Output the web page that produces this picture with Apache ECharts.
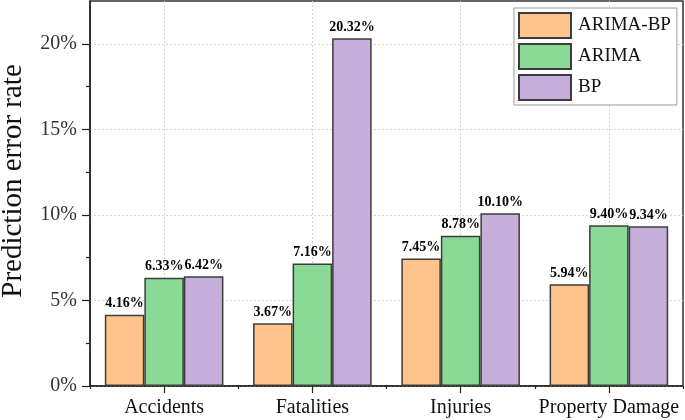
<!DOCTYPE html>
<html><head><meta charset="utf-8">
<script src="https://cdn.jsdelivr.net/npm/echarts@6/dist/echarts.min.js"></script>
<style>html,body{margin:0;padding:0;background:#fff}#c{width:685px;height:420px}</style>
</head><body><div id="c"></div>
<script>
const categories = ['Accidents', 'Fatalities', 'Injuries', 'Property Damage'];
const arimaBP = [4.16, 3.67, 7.45, 5.94];
const arima = [6.33, 7.16, 8.78, 9.40];
const bp = [6.42, 20.32, 10.10, 9.34];
const seriesNames = ['ARIMA-BP', 'ARIMA', 'BP'];
const yTicks = [0, 5, 10, 15, 20];
const yMinorTicks = [2.5, 7.5, 12.5, 17.5];
const gridSlots = ['', categories[0], '', categories[1], '', categories[2], '', categories[3], ''];

const FONT = '"Liberation Serif", "Times New Roman", serif';
const colors = ['#FFC48C', '#8AD996', '#C5AED9'];
const border = '#3c3c3c';

function barSeries(name, data, color) {
  return {
    name, type: 'bar', data, xAxisIndex: 0, yAxisIndex: 0,
    barGap: '0%', barCategoryGap: '20%',
    itemStyle: { color, borderColor: border, borderWidth: 1.5 },
    label: {
      show: true, position: 'top', distance: 4,
      formatter: p => p.value.toFixed(2) + '%',
      fontFamily: FONT, fontWeight: 'bold', fontSize: 14, color: '#000'
    }
  };
}

const chart = echarts.init(document.getElementById('c'));
chart.setOption({
  animation: false,
  textStyle: { fontFamily: FONT },
  grid: { left: 90, right: 2, top: 1, bottom: 34, containLabel: false, outerBoundsMode: 'none', show: true, borderColor: '#333', borderWidth: 1.5, backgroundColor: 'transparent' },
  legend: {
    left: 514, top: 8, orient: 'vertical', icon: 'rect',
    itemWidth: 52, itemHeight: 25, itemGap: 4,
    padding: [4, 6, 4, 4],
    borderColor: '#999', borderWidth: 1, backgroundColor: '#fff',
    textStyle: { fontFamily: FONT, fontSize: 19, color: '#111', padding: [0, 0, 0, 2] },
    data: seriesNames
  },
  xAxis: [
    {
      type: 'category', data: categories, gridIndex: 0,
      axisLine: { show: true, lineStyle: { color: '#222', width: 1.5 } },
      axisTick: { show: true, alignWithLabel: true, length: 7, lineStyle: { color: '#222', width: 1.2 } },
      axisLabel: { interval: 0, fontFamily: FONT, fontSize: 20, color: '#111', margin: 12 },
      splitLine: { show: false }
    },
    {
      type: 'category', data: gridSlots, gridIndex: 0, boundaryGap: false, position: 'bottom',
      axisLine: { show: false },
      axisTick: { show: true, length: 3, interval: (i) => i % 2 === 0, lineStyle: { color: '#222', width: 1.2 } },
      axisLabel: { show: false },
      splitLine: { show: true, interval: (i) => i % 2 === 1, lineStyle: { color: '#d4d4d4', type: [2, 2], width: 1 } }
    }
  ],
  yAxis: [
    {
      type: 'value', min: 0, max: 22.5, interval: 5,
      name: 'Prediction error rate', nameLocation: 'middle', nameGap: 62,
      nameTextStyle: { fontFamily: FONT, fontSize: 29, color: '#111', padding: [0, 0, 0, 25] },
      axisLine: { show: true, lineStyle: { color: '#222', width: 1.5 } },
      axisTick: { show: true, length: 8, customValues: yTicks, lineStyle: { color: '#222', width: 1.2 } },
      axisLabel: {
        customValues: yTicks, fontFamily: FONT, fontSize: 20, color: '#333', margin: 13,
        formatter: v => (v % 5 === 0 ? v + '%' : '')
      },
      splitLine: { show: true, lineStyle: { color: '#d4d4d4', type: [2, 2], width: 1 } }
    },
    {
      type: 'value', min: 0, max: 22.5, interval: 2.5, position: 'left',
      axisLine: { show: false },
      axisTick: { show: true, length: 4, customValues: yMinorTicks, lineStyle: { color: '#222', width: 1.2 } },
      axisLabel: { show: false },
      splitLine: { show: false }
    }
  ],
  series: [
    barSeries(seriesNames[0], arimaBP, colors[0]),
    barSeries(seriesNames[1], arima, colors[1]),
    barSeries(seriesNames[2], bp, colors[2])
  ]
});
</script></body></html>
